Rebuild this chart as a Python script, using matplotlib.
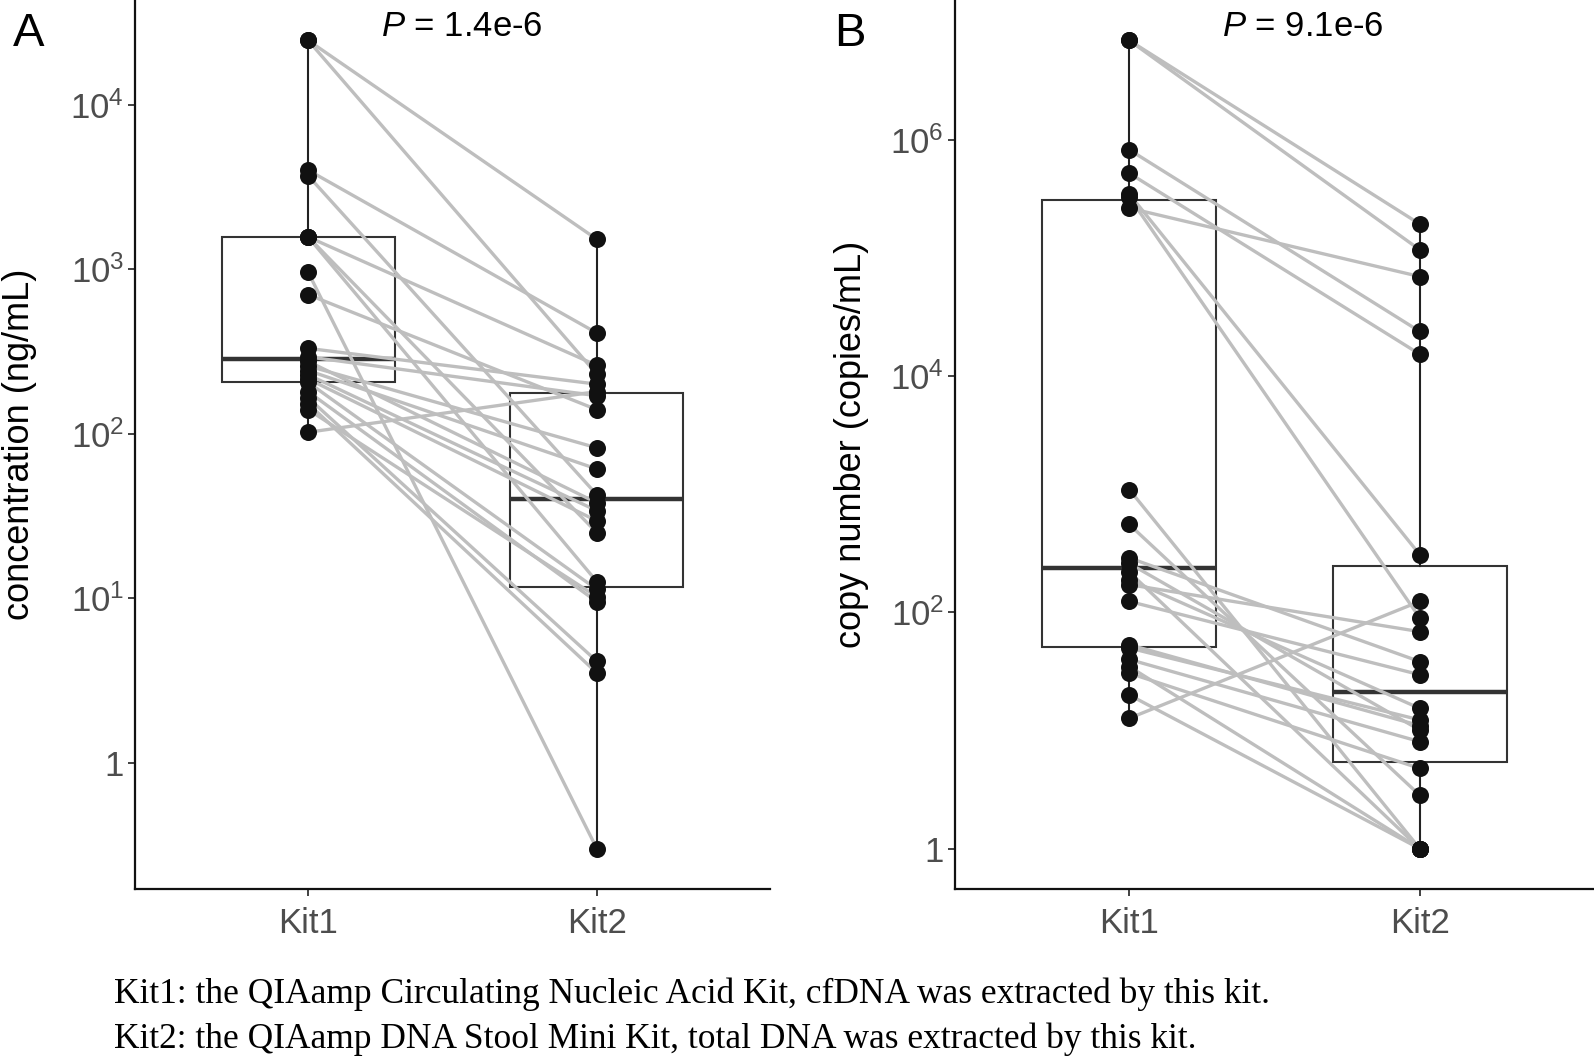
import matplotlib
matplotlib.use('Agg')
import matplotlib.pyplot as plt
import numpy as np
from matplotlib import cbook
from matplotlib.ticker import NullLocator

plt.rcParams['font.family'] = ['Liberation Sans', 'DejaVu Sans']
plt.rcParams['mathtext.fontset'] = 'custom'
plt.rcParams['mathtext.rm'] = 'Liberation Sans'
plt.rcParams['mathtext.it'] = 'Liberation Sans:italic'

kits = ['Kit1', 'Kit2']

# A: concentration (ng/mL), paired by index (same sample in both kits)
conc_kit1 = [24600, 24600, 4000, 3700, 1570, 1570, 1570, 957, 700, 330, 293,
             275, 258, 242, 228, 215, 205, 180, 165, 152, 140, 102]
conc_kit2 = [1520, 230, 409, 42.5, 260, 25, 12.6, 0.30, 140, 200, 170,
             38, 82, 61, 34, 29.5, 11.3, 9.5, 4.13, 3.51, 10.2, 180]
conc_ticks = [1, 10, 100, 1000, 10000]
conc_ticklabels = ['1', r'$\mathregular{10^{1}}$', r'$\mathregular{10^{2}}$',
                   r'$\mathregular{10^{3}}$', r'$\mathregular{10^{4}}$']

# B: copy number (copies/mL)
copy_kit1 = [7.0e6, 7.0e6, 8.3e5, 5.25e5, 3.5e5, 3.3e5, 2.66e5, 1100, 556, 290, 260,
             220, 190, 172, 124, 53.3, 50, 40, 34.8, 30.6, 20, 12.7]
copy_kit2 = [1.95e5, 1.18e5, 2.4e4, 1.54e4, 309, 90, 7.0e4, 1, 2.83, 38.4, 10.1,
             1, 15.4, 68.8, 29.7, 11, 12.3, 8.05, 1, 4.78, 1, 124]
copy_ticks = [1, 100, 10000, 1000000]
copy_ticklabels = ['1', r'$\mathregular{10^{2}}$', r'$\mathregular{10^{4}}$',
                   r'$\mathregular{10^{6}}$']

p_text = [r'$\mathit{P}$ = 1.4e-6', r'$\mathit{P}$ = 9.1e-6']

fig = plt.figure(figsize=(15.94, 10.58), dpi=100)


def draw_panel(ax, v1, v2, ticks, ticklabels, ylab):
    # box stats on log10 values, like ggplot with a log10 scale
    stats = cbook.boxplot_stats([np.log10(v1), np.log10(v2)], whis=(0, 100))
    for s in stats:
        for k in ('med', 'q1', 'q3', 'whislo', 'whishi', 'mean', 'cilo', 'cihi'):
            s[k] = 10 ** s[k]
        s['fliers'] = []
    ax.set_yscale('log')
    ax.bxp(stats, positions=[1, 2], widths=0.6, showfliers=False, showcaps=False,
           patch_artist=True, zorder=1,
           boxprops=dict(facecolor='white', edgecolor='#333333', linewidth=1.5),
           medianprops=dict(color='#333333', linewidth=3.2),
           whiskerprops=dict(color='#222222', linewidth=1.5))
    for a, b in zip(v1, v2):
        ax.plot([1, 2], [a, b], color='#bebebe', lw=2.4, zorder=2, solid_capstyle='round')
    ax.scatter(np.full(len(v1), 1), v1, s=150, color='#111111', zorder=3, linewidths=0)
    ax.scatter(np.full(len(v2), 2), v2, s=150, color='#111111', zorder=3, linewidths=0)

    ax.set_xlim(0.4, 2.6)
    ax.margins(y=0.05)
    ax.set_xticks([1, 2])
    ax.set_xticklabels(kits)
    ax.set_yticks(ticks)
    ax.set_yticklabels(ticklabels)
    ax.yaxis.set_minor_locator(NullLocator())
    for side in ('top', 'right'):
        ax.spines[side].set_visible(False)
    for side in ('left', 'bottom'):
        ax.spines[side].set_linewidth(1.6)
        ax.spines[side].set_color('#111111')
    ax.tick_params(axis='both', length=5, width=1.3, color='#333333',
                   labelcolor='#4d4d4d', labelsize=25)
    ax.tick_params(axis='x', pad=8)
    ax.tick_params(axis='y', pad=3)
    ax.set_ylabel(ylab, fontsize=26, color='black')


axA = fig.add_axes([135 / 1594, 1 - 889 / 1058, 635 / 1594, 889 / 1058])
draw_panel(axA, conc_kit1, conc_kit2, conc_ticks, conc_ticklabels, 'concentration (ng/mL)')
axA.yaxis.set_label_coords(-0.154, 0.5)

axB = fig.add_axes([955 / 1594, 1 - 889 / 1058, 639 / 1594, 889 / 1058])
draw_panel(axB, copy_kit1, copy_kit2, copy_ticks, copy_ticklabels, 'copy number (copies/mL)')
axB.yaxis.set_label_coords(-0.134, 0.5)

fig.text(29 / 1594, 1 - 34 / 1058, 'A', fontsize=34, ha='center', va='center')
fig.text(850 / 1594, 1 - 34 / 1058, 'B', fontsize=34, ha='center', va='center')
fig.text(462 / 1594, 1 - 26 / 1058, p_text[0], fontsize=25, ha='center', va='center')
fig.text(1303 / 1594, 1 - 26 / 1058, p_text[1], fontsize=25, ha='center', va='center')

fig.text(114 / 1594, 1 - 994 / 1058,
         'Kit1: the QIAamp Circulating Nucleic Acid Kit, cfDNA was extracted by this kit.',
         family='Liberation Serif', fontsize=25.5, va='center')
fig.text(114 / 1594, 1 - 1039 / 1058,
         'Kit2: the QIAamp DNA Stool Mini Kit, total DNA was extracted by this kit.',
         family='Liberation Serif', fontsize=25.5, va='center')

fig.savefig('out.png', dpi=100)
